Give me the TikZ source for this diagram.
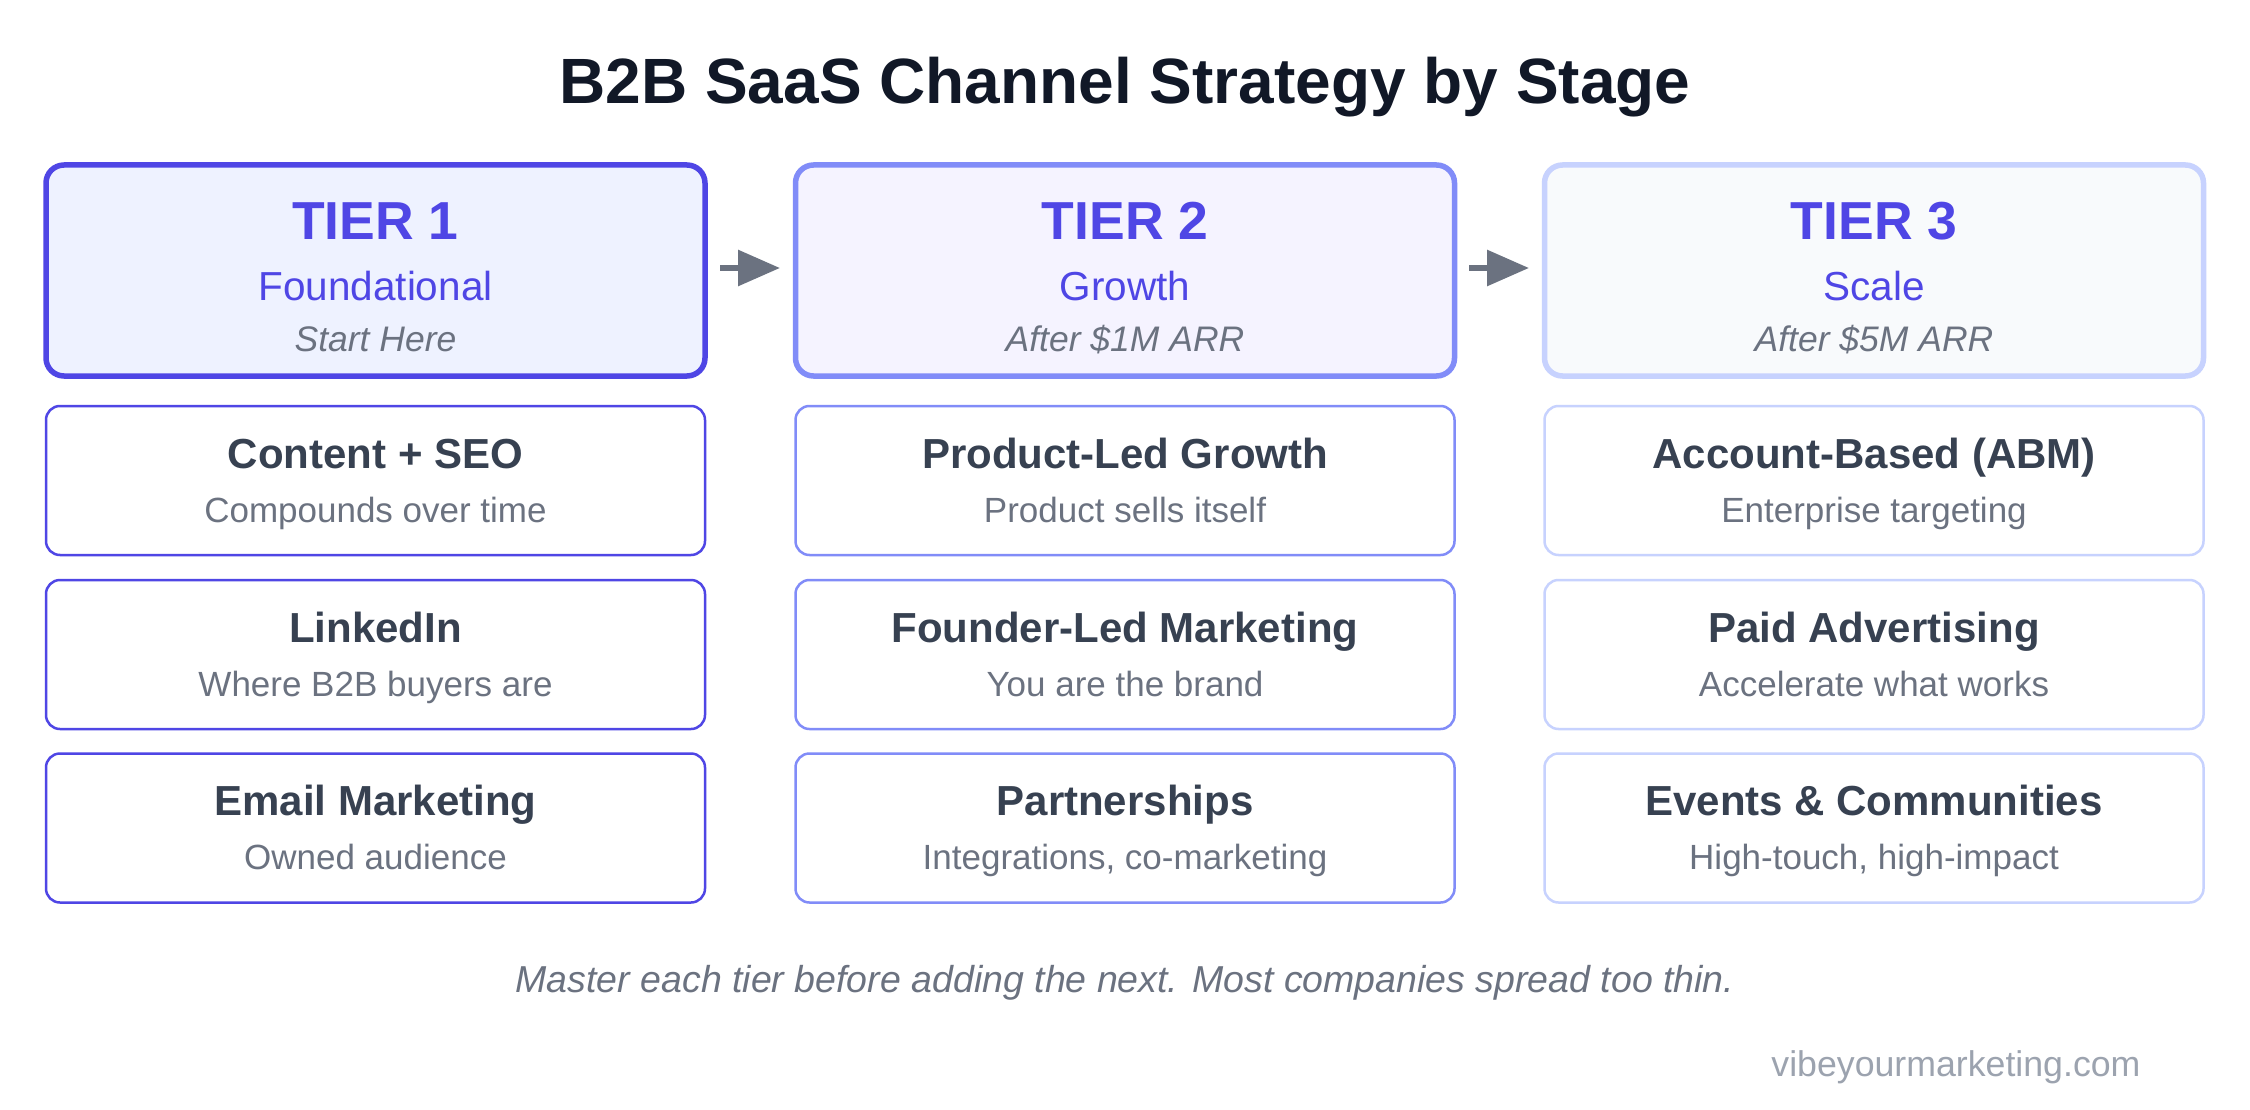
\documentclass[tikz,border=0pt]{standalone}
\usepackage{fontspec}
\setmainfont{Liberation Sans}
\usetikzlibrary{arrows.meta}
\definecolor{indA}{HTML}{4F46E5}
\definecolor{indB}{HTML}{818CF8}
\definecolor{indC}{HTML}{C7D2FE}
\definecolor{fillA}{HTML}{EEF2FF}
\definecolor{fillB}{HTML}{F5F3FF}
\definecolor{fillC}{HTML}{F8FAFC}
\definecolor{titlec}{HTML}{111827}
\definecolor{cardt}{HTML}{374151}
\definecolor{grayt}{HTML}{6B7280}
\definecolor{webc}{HTML}{9CA3AF}
\begin{document}
\begin{tikzpicture}[x=1pt,y=-1pt,
  hdr/.style={draw, rounded corners=18pt, minimum width=659pt, minimum height=211pt, line width=5.5pt, inner sep=0pt, outer sep=0pt},
  card/.style={draw, fill=white, rounded corners=14pt, minimum width=659pt, minimum height=149pt, line width=2.5pt, inner sep=0pt, outer sep=0pt},
  tiert/.style={anchor=base, text=indA, font=\fontsize{53.5}{60}\selectfont\bfseries},
  tiers/.style={anchor=base, text=indA, font=\fontsize{40.5}{44}\selectfont},
  tieri/.style={anchor=base, text=grayt, font=\fontsize{35.5}{38}\selectfont\itshape},
  ctitle/.style={anchor=base, text=cardt, font=\fontsize{42}{48}\selectfont\bfseries},
  csub/.style={anchor=base, text=grayt, font=\fontsize{35}{38}\selectfont},
  flow/.style={draw=grayt, line width=6pt, -{Triangle[length=42pt,width=35pt]}}
]
\useasboundingbox[fill=white] (0,0) rectangle (2250,1110);

\node[anchor=base, text=titlec, font=\fontsize{64}{70}\selectfont\bfseries] (title) at (1125,104) {B2B SaaS Channel Strategy by Stage};

% headers
\node[hdr, draw=indA, fill=fillA] (h1) at (375.5,270.5) {};
\node[hdr, draw=indB, fill=fillB] (h2) at (1125,270.5) {};
\node[hdr, draw=indC, fill=fillC] (h3) at (1874,270.5) {};

\node[tiert] (h1a) at (375.5,239) {TIER 1};
\node[tiers] (h1b) at (375.5,300) {Foundational};
\node[tieri] (h1c) at (375.5,351) {Start Here};
\node[tiert] (h2a) at (1125,239) {TIER 2};
\node[tiers] (h2b) at (1125,300) {Growth};
\node[tieri] (h2c) at (1125,351) {After \$1M ARR};
\node[tiert] (h3a) at (1874,239) {TIER 3};
\node[tiers] (h3b) at (1874,300) {Scale};
\node[tieri] (h3c) at (1874,351) {After \$5M ARR};

% arrows
\coordinate (a1s) at (720,268);
\coordinate (a1e) at (780,268);
\coordinate (a2s) at (1469,268);
\coordinate (a2e) at (1529,268);
\draw[flow] (a1s) -- (a1e);
\draw[flow] (a2s) -- (a2e);

% cards tier 1
\node[card, draw=indA] (c11) at (375.5,480.5) {};
\node[card, draw=indA] (c12) at (375.5,654.5) {};
\node[card, draw=indA] (c13) at (375.5,828) {};
\node[ctitle] (c11t) at (375.5,468) {Content + SEO};
\node[csub] (c11s) at (375.5,522) {Compounds over time};
\node[ctitle] (c12t) at (375.5,642) {LinkedIn};
\node[csub] (c12s) at (375.5,696) {Where B2B buyers are};
\node[ctitle] (c13t) at (375.5,815.5) {Email Marketing};
\node[csub] (c13s) at (375.5,869.5) {Owned audience};

% cards tier 2
\node[card, draw=indB] (c21) at (1125,480.5) {};
\node[card, draw=indB] (c22) at (1125,654.5) {};
\node[card, draw=indB] (c23) at (1125,828) {};
\node[ctitle] (c21t) at (1125,468) {Product-Led Growth};
\node[csub] (c21s) at (1125,522) {Product sells itself};
\node[ctitle] (c22t) at (1125,642) {Founder-Led Marketing};
\node[csub] (c22s) at (1125,696) {You are the brand};
\node[ctitle] (c23t) at (1125,815.5) {Partnerships};
\node[csub] (c23s) at (1125,869.5) {Integrations, co-marketing};

% cards tier 3
\node[card, draw=indC] (c31) at (1874,480.5) {};
\node[card, draw=indC] (c32) at (1874,654.5) {};
\node[card, draw=indC] (c33) at (1874,828) {};
\node[ctitle] (c31t) at (1874,468) {Account-Based (ABM)};
\node[csub] (c31s) at (1874,522) {Enterprise targeting};
\node[ctitle] (c32t) at (1874,642) {Paid Advertising};
\node[csub] (c32s) at (1874,696) {Accelerate what works};
\node[ctitle] (c33t) at (1874,815.5) {Events \& Communities};
\node[csub] (c33s) at (1874,869.5) {High-touch, high-impact};

% footer
\node[anchor=base, text=grayt, font=\fontsize{37.5}{42}\selectfont\itshape] (foot) at (1125,992) {Master each tier before adding the next. Most companies spread too thin.};
\node[anchor=base east, text=webc, font=\fontsize{35.7}{40}\selectfont] (web) at (2144,1076) {vibeyourmarketing.com};
\end{tikzpicture}
\end{document}
